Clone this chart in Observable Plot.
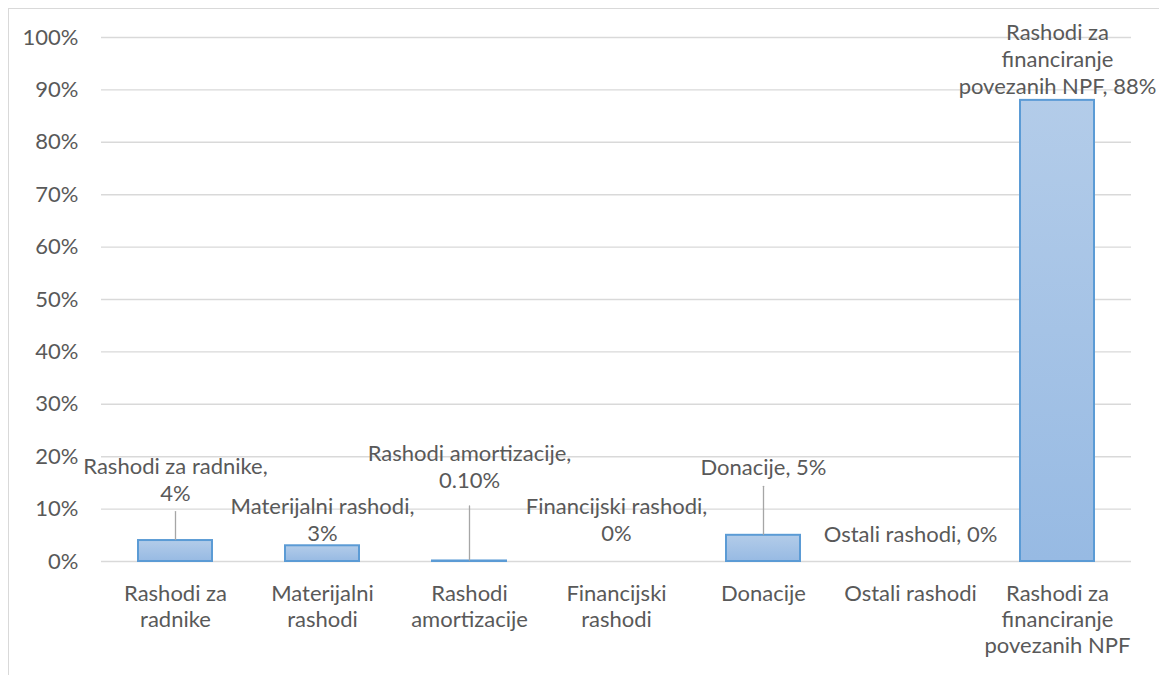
<!DOCTYPE html>
<html>
<head>
<meta charset="utf-8">
<script src="https://cdn.jsdelivr.net/npm/d3@7"></script>
<script src="https://cdn.jsdelivr.net/npm/@observablehq/plot@0.6"></script>
<style>
  html, body { margin: 0; padding: 0; background: #fff; overflow: hidden; }
  #wrap { position: relative; width: 1159px; height: 675px; }
  #frame { position: absolute; left: 8px; top: 8px; width: 1200px; height: 700px;
           border-left: 1.5px solid #d9d9d9; border-top: 1.5px solid #d9d9d9;
           pointer-events: none; z-index: 2; }
</style>
</head>
<body>
<div id="wrap"><div id="frame"></div></div>
<script>
// ---- data ----
const categories = [
  "Rashodi za radnike", "Materijalni rashodi", "Rashodi amortizacije",
  "Financijski rashodi", "Donacije", "Ostali rashodi",
  "Rashodi za financiranje povezanih NPF"
];
const values = [0.04, 0.03, 0.001, 0, 0.05, 0, 0.88];
const axisLabels = [
  "Rashodi za\nradnike", "Materijalni\nrashodi", "Rashodi\namortizacije",
  "Financijski\nrashodi", "Donacije", "Ostali rashodi",
  "Rashodi za\nfinanciranje\npovezanih NPF"
];
const dataLabels = [
  "Rashodi za radnike,\n4%", "Materijalni rashodi,\n3%", "Rashodi amortizacije,\n0.10%",
  "Financijski rashodi,\n0%", "Donacije, 5%", "Ostali rashodi, 0%",
  "Rashodi za\nfinanciranje\npovezanih NPF, 88%"
];
const yTicks = [0, 0.1, 0.2, 0.3, 0.4, 0.5, 0.6, 0.7, 0.8, 0.9, 1.0];

// ---- label layout (pixel offsets, not data) ----
const labelDy = [-40, -5, -73, -21, -60, -20, -6];
const leaderLen = [28, 0, 54, 0, 48, 0, 0];

const rows = categories.map((c, i) => ({
  category: c, value: values[i], axisLabel: axisLabels[i], dataLabel: dataLabels[i]
}));

const FONT = "Lato, 'Open Sans', sans-serif";
const TXT = "#595959";

const gradientDefs = () => {
  const defs = d3.create("svg:defs");
  const g = defs.append("linearGradient").attr("id", "barGrad")
    .attr("x1", 0).attr("y1", 0).attr("x2", 0).attr("y2", 1);
  g.append("stop").attr("offset", "0%").attr("stop-color", "#b3cce9");
  g.append("stop").attr("offset", "100%").attr("stop-color", "#97bae3");
  return defs.node();
};

const leaderShape = {
  draw(context, l) { context.moveTo(0, 0); context.lineTo(0, -l); }
};

const marks = [
  gradientDefs,
  Plot.gridY(yTicks, {stroke: "#d9d9d9", strokeOpacity: 1, strokeWidth: 1.4}),
  Plot.axisY(yTicks, {
    label: null,
    tickSize: 0, tickPadding: 23,
    tickFormat: d => Math.round(d * 100) + "%",
    fontSize: 22, fill: TXT
  }),
  Plot.barY(rows.filter(d => d.value > 0), {
    x: "category", y: "value",
    fill: "url(#barGrad)", stroke: "#5b9bd5", strokeWidth: 2
  }),
  Plot.text(rows, {
    x: "category", y: () => 0, text: "axisLabel",
    lineAnchor: "top", dy: 21, lineHeight: 26 / 22,
    fontSize: 22, fill: TXT
  }),
  ...rows.map((r, i) => Plot.text([r], {
    x: "category", y: "value", text: "dataLabel",
    lineAnchor: "bottom", dy: labelDy[i], lineHeight: 27 / 22,
    fontSize: 22, fill: TXT
  })),
  ...rows.filter((r, i) => leaderLen[i] > 0).map(r => Plot.vector([r], {
    x: "category", y: "value", length: leaderLen[categories.indexOf(r.category)],
    rotate: 0, anchor: "start", shape: leaderShape,
    stroke: "#a6a6a6", strokeWidth: 1.3, dy: -1
  }))
];

const chart = Plot.plot({
  width: 1159, height: 675,
  marginLeft: 101, marginRight: 28, marginTop: 37, marginBottom: 114,
  style: {fontFamily: FONT, fontSize: "22px", color: TXT, background: "#fff"},
  x: {domain: categories, paddingInner: 0.5, paddingOuter: 0.25, axis: null},
  y: {domain: [0, 1], axis: null},
  marks
});
document.getElementById("wrap").appendChild(chart);
</script>
</body>
</html>
